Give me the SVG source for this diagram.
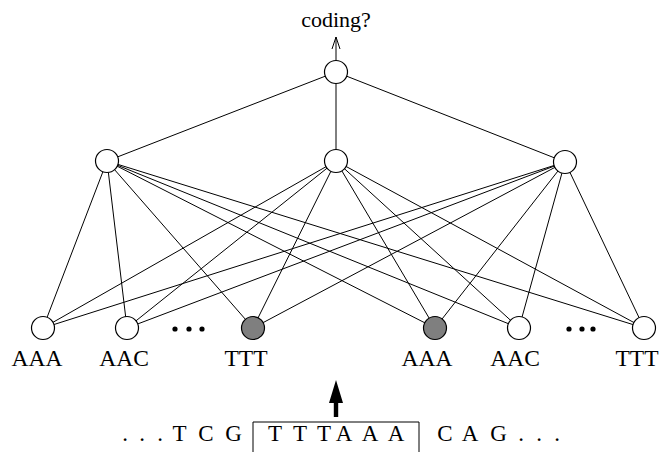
<svg xmlns="http://www.w3.org/2000/svg" width="659" height="452" viewBox="0 0 659 452">
<defs>
<style>
.e{stroke:#000;stroke-width:1;fill:none}
.n{fill:#fff;stroke:#000;stroke-width:1.2}
.g{fill:#7f7f7f;stroke:#000;stroke-width:1.2}
.t{font-family:"Liberation Serif","Times New Roman",serif;font-size:23.5px;fill:#000;text-anchor:middle}
.s{font-family:"Liberation Serif","Times New Roman",serif;font-size:23px;fill:#000;text-anchor:middle}
.d{fill:#000}
</style>
</defs>
<rect width="659" height="452" fill="#fff"/>
<g id="connectors">
<path class="e" d="M336,72 L107,161 M336,72 L336,161 M336,72 L565,162"/>
<path class="e" d="M107,161 L43,328 M107,161 L127,328 M107,161 L253,328 M107,161 L435,328 M107,161 L519,328 M107,161 L644,328"/>
<path class="e" d="M336,161 L43,328 M336,161 L127,328 M336,161 L253,328 M336,161 L435,328 M336,161 L519,328 M336,161 L644,328"/>
<path class="e" d="M565,162 L43,328 M565,162 L127,328 M565,162 L253,328 M565,162 L435,328 M565,162 L519,328 M565,162 L644,328"/>
<path class="e" d="M336,61 L336,37 M332,49 L336,37 L340,49"/>
<path d="M333.8,417 L338.2,417 L338.2,403 L343,403 L336,380 L329,403 L333.8,403 Z" fill="#000"/>
</g>
<g id="output"><circle class="n" cx="336" cy="72" r="11.5"/><text class="t" x="336" y="27" style="font-size:22px">coding?</text></g>
<g id="h1"><circle class="n" cx="107" cy="161" r="11.5"/></g>
<g id="h2"><circle class="n" cx="336" cy="161" r="11.5"/></g>
<g id="h3"><circle class="n" cx="565" cy="162" r="11.5"/></g>
<g id="in1"><circle class="n" cx="43" cy="328" r="11.5"/><text class="t" x="37" y="366">AAA</text></g>
<g id="in2"><circle class="n" cx="127" cy="328" r="11.5"/><text class="t" x="124" y="366">AAC</text></g>
<g id="dots1"><circle class="d" cx="175" cy="329" r="2.6"/><circle class="d" cx="189" cy="329" r="2.6"/><circle class="d" cx="202" cy="329" r="2.6"/></g>
<g id="in3"><circle class="g" cx="253" cy="328" r="11.5"/><text class="t" x="246" y="366">TTT</text></g>
<g id="in4"><circle class="g" cx="435" cy="328" r="11.5"/><text class="t" x="427" y="366">AAA</text></g>
<g id="in5"><circle class="n" cx="519" cy="328" r="11.5"/><text class="t" x="515" y="366">AAC</text></g>
<g id="dots2"><circle class="d" cx="569" cy="329" r="2.6"/><circle class="d" cx="582" cy="329" r="2.6"/><circle class="d" cx="593" cy="329" r="2.6"/></g>
<g id="in6"><circle class="n" cx="644" cy="328" r="11.5"/><text class="t" x="637" y="366">TTT</text></g>
<g id="sequence">
<path class="e" d="M253,452 L253,422 L419,422 L419,452"/>
<text class="s" x="125" y="441">.</text>
<text class="s" x="142" y="441">.</text>
<text class="s" x="160" y="441">.</text>
<text class="s" x="179.5" y="441">T</text>
<text class="s" x="206" y="441">C</text>
<text class="s" x="233.5" y="441">G</text>
<text class="s" x="275" y="441">T</text>
<text class="s" x="300" y="441">T</text>
<text class="s" x="324" y="441">T</text>
<text class="s" x="344" y="441">A</text>
<text class="s" x="370" y="441">A</text>
<text class="s" x="396" y="441">A</text>
<text class="s" x="445" y="441">C</text>
<text class="s" x="470" y="441">A</text>
<text class="s" x="498.5" y="441">G</text>
<text class="s" x="521" y="441">.</text>
<text class="s" x="539" y="441">.</text>
<text class="s" x="557" y="441">.</text>
</g>
</svg>
